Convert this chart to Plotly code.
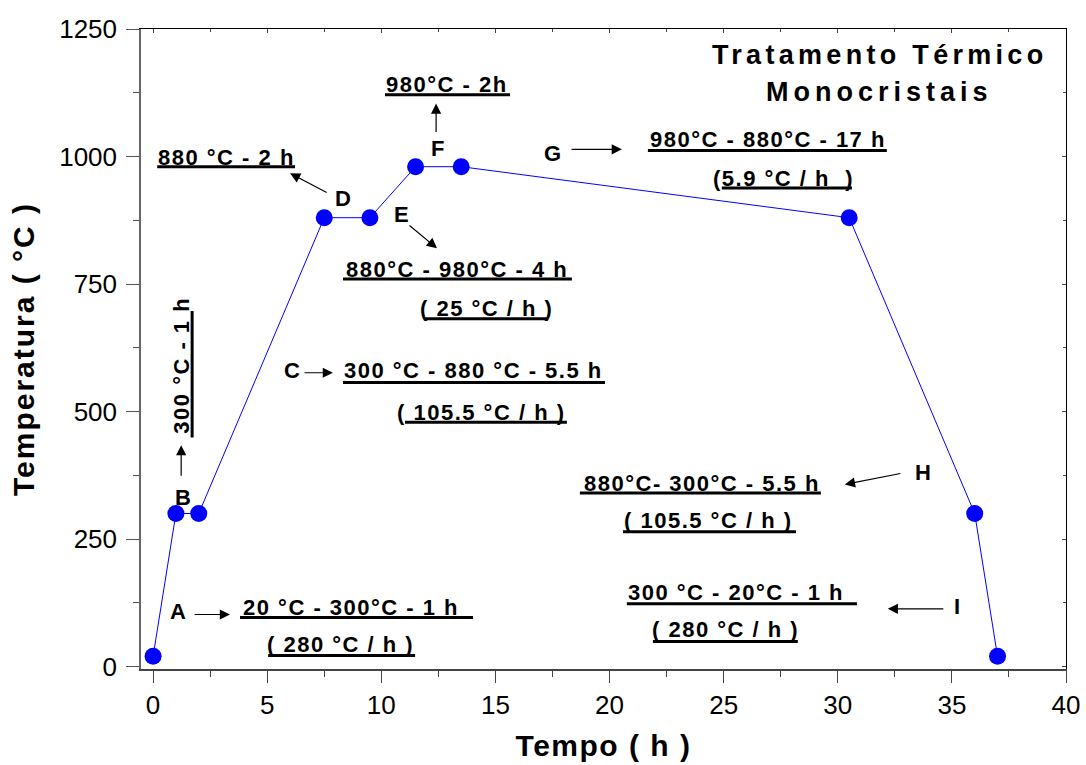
import plotly.graph_objects as go

# ---- data ----
tempo_h = [0, 1, 2, 7.5, 9.5, 11.5, 13.5, 30.5, 36, 37]
temperatura_c = [20, 300, 300, 880, 880, 980, 980, 880, 300, 20]

x_ticks = [0, 5, 10, 15, 20, 25, 30, 35, 40]
y_ticks = [0, 250, 500, 750, 1000, 1250]

# stage letters
stage_labels = ["A", "B", "C", "D", "E", "F", "G", "H", "I"]
stage_x = [1.10, 1.31, 6.09, 8.32, 10.9, 12.48, 17.48, 33.73, 35.22]
stage_y = [107, 332, 580, 918, 887, 1016, 1006, 381, 117]

# annotation texts (underlined)
note_texts = [
    "880 °C - 2 h",
    "880°C - 980°C - 4 h",
    "( 25 °C / h )",
    "980°C - 2h",
    "980°C - 880°C - 17 h",
    "(5.9 °C / h  )",
    "300 °C - 880 °C - 5.5 h",
    "( 105.5 °C / h )",
    "20 °C - 300°C - 1 h",
    "( 280 °C / h )",
    "880°C- 300°C - 5.5 h",
    "( 105.5 °C / h )",
    "300 °C - 20°C - 1 h",
    "( 280 °C / h )",
]
note_x = [3.20, 13.32, 14.59, 12.88, 26.94, 27.64, 14.06, 14.41, 8.67, 8.23, 24.05, 24.35, 25.54, 25.10]
note_y = [998, 779, 701, 1141, 1033, 957, 580, 498, 115, 43, 359, 287, 145, 72]
# underline extents
ul_x0 = [0.18, 8.32, 11.91, 10.16, 21.68, 24.92, 8.32, 11.04, 3.81, 5.04, 18.70, 20.59, 20.76, 21.90]
ul_x1 = [6.22, 18.35, 17.26, 15.64, 32.15, 30.62, 19.80, 18.13, 14.02, 11.48, 29.26, 28.17, 30.84, 28.25]
ul_y = [980, 760, 682, 1121, 1012, 938, 557, 479, 96, 21.5, 340, 264, 123, 49]

# arrows: tail -> head
arr_x0 = [7.67, 11.17, 12.40, 18.27, 6.57, 1.23, 1.75, 32.81, 34.69]
arr_y0 = [928, 867, 1045, 1014, 576, 371, 102, 379, 113]
arr_x1 = [6.00, 12.44, 12.40, 20.54, 7.88, 1.23, 3.37, 30.31, 32.19]
arr_y1 = [967, 820, 1104, 1014, 576, 434, 102, 357, 113]

FONT = "Liberation Sans, Arial, sans-serif"
NOTE_FONT = dict(family=FONT, size=22, color="black", weight="bold")

fig = go.Figure()
fig.add_trace(go.Scatter(
    x=tempo_h, y=temperatura_c, mode="lines+markers",
    line=dict(color="#0000ff", width=1),
    marker=dict(color="#0000ff", size=17, symbol="circle"),
    showlegend=False, hoverinfo="skip",
))
# invisible trace for mirror axes
fig.add_trace(go.Scatter(x=[None], y=[None], xaxis="x2", yaxis="y2", showlegend=False))

annotations = []
for t, x, y in zip(stage_labels, stage_x, stage_y):
    annotations.append(dict(x=x, y=y, text=t, showarrow=False, font=NOTE_FONT))
for t, x, y in zip(note_texts, note_x, note_y):
    annotations.append(dict(x=x, y=y, text=f"<span style='letter-spacing:1.5px'>{t}</span>",
                            showarrow=False, font=NOTE_FONT))
# vertical label
annotations.append(dict(x=1.27, y=590, text="<span style='letter-spacing:1.5px'>300 °C - 1 h</span>",
                        showarrow=False, textangle=-90, font=NOTE_FONT))
for x0, y0, x1, y1 in zip(arr_x0, arr_y0, arr_x1, arr_y1):
    annotations.append(dict(x=x1, y=y1, ax=x0, ay=y0, axref="x", ayref="y", text="",
                            showarrow=True, arrowhead=2, arrowsize=1.7, arrowwidth=1.2,
                            arrowcolor="black"))
# title
annotations.append(dict(x=31.84, y=1199, text="<span style='letter-spacing:4.3px'>Tratamento Térmico</span>",
                        showarrow=False, font=dict(family=FONT, size=27, color="black", weight="bold")))
annotations.append(dict(x=31.84, y=1127, text="<span style='letter-spacing:5px'>Monocristais</span>",
                        showarrow=False, font=dict(family=FONT, size=27, color="black", weight="bold")))

shapes = []
for x0, x1, y in zip(ul_x0, ul_x1, ul_y):
    shapes.append(dict(type="line", x0=x0, x1=x1, y0=y, y1=y, xref="x", yref="y",
                       line=dict(color="black", width=3)))
shapes.append(dict(type="line", x0=1.71, x1=1.71, y0=449, y1=697, xref="x", yref="y",
                   line=dict(color="black", width=3)))

fig.update_layout(
    width=1086, height=765,
    margin=dict(l=141, r=20, t=29, b=96, autoexpand=False),
    paper_bgcolor="white", plot_bgcolor="white",
    font=dict(family=FONT, color="black"),
    annotations=annotations, shapes=shapes,
    xaxis=dict(
        range=[-0.53, 40], tickvals=x_ticks, ticks="outside", ticklen=12, tickwidth=1.2,
        tickcolor="#444", linecolor="#444", linewidth=1.5, showgrid=False, zeroline=False,
        automargin=False,
        tickfont=dict(size=26, family=FONT, color="black"),
        minor=dict(dtick=2.5, tick0=0, ticks="outside", ticklen=6, tickcolor="#444", showgrid=False),
        title=dict(text="<span style='letter-spacing:1.5px'>Tempo ( h )</span>",
                   font=dict(size=30, family=FONT, color="black", weight="bold"), standoff=16),
    ),
    yaxis=dict(
        range=[-4.9, 1250], tickvals=y_ticks, ticks="outside", ticklen=13, tickwidth=1.2,
        tickcolor="#555", linecolor="#666", linewidth=1.5, showgrid=False, zeroline=False,
        automargin=False, ticklabelstandoff=4,
        tickfont=dict(size=26, family=FONT, color="black"),
        minor=dict(dtick=125, tick0=0, ticks="outside", ticklen=6, tickcolor="#555", showgrid=False),
        title=dict(text="<span style='letter-spacing:2px'>Temperatura ( °C )</span>",
                   font=dict(size=30, family=FONT, color="black", weight="bold"), standoff=16),
    ),
    xaxis2=dict(overlaying="x", side="top", matches="x", range=[-0.53, 40], showticklabels=False,
                tickvals=x_ticks, ticks="inside", ticklen=4, linecolor="black", linewidth=1.2,
                showgrid=False, zeroline=False, automargin=False,
                minor=dict(dtick=2.5, tick0=0, ticks="inside", ticklen=3)),
    yaxis2=dict(overlaying="y", side="right", matches="y", range=[-4.9, 1250], showticklabels=False,
                tickvals=y_ticks, ticks="inside", ticklen=4, linecolor="black", linewidth=1.2,
                showgrid=False, zeroline=False, automargin=False,
                minor=dict(dtick=125, tick0=0, ticks="inside", ticklen=3)),
)

fig.write_html("out.html", config={"displayModeBar": False},
               post_script="document.body.style.margin='0';")
